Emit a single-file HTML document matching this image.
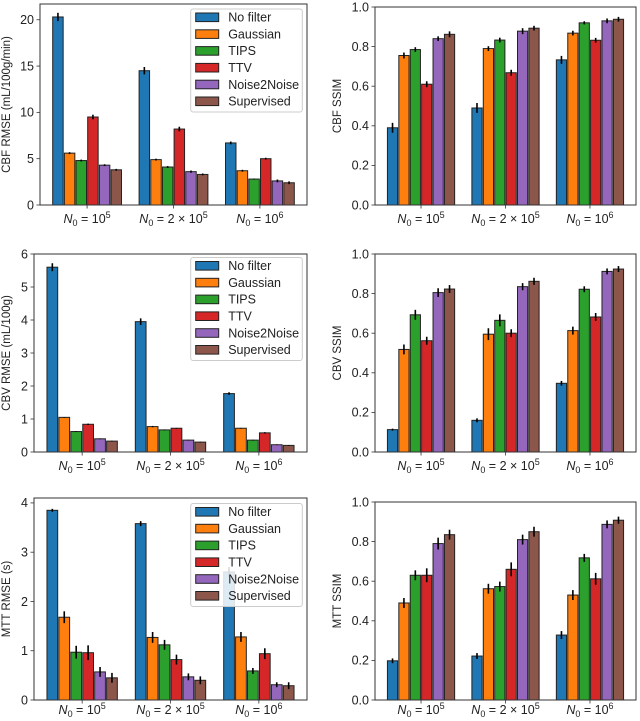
<!DOCTYPE html>
<html><head><meta charset="utf-8"><style>
body{margin:0;background:#fff;}
svg{display:block;font-family:"Liberation Sans","DejaVu Sans",sans-serif;}
</style></head><body>
<svg id="fig" width="640" height="721" viewBox="0 0 640 721" xmlns="http://www.w3.org/2000/svg"></svg>
<script>
const groups = ["10^5","2x10^5","10^6"];
const methods = ["No filter","Gaussian","TIPS","TTV","Noise2Noise","Supervised"];
const colors = ["#1f77b4","#ff7f0e","#2ca02c","#d62728","#9467bd","#8c564b"];

const cbfRmse = [[20.3,5.6,4.8,9.5,4.3,3.8],[14.5,4.9,4.1,8.2,3.6,3.3],[6.7,3.7,2.8,5.0,2.6,2.4]];
const cbfRmseErr = [[0.45,0.1,0.1,0.25,0.1,0.1],[0.4,0.1,0.1,0.25,0.12,0.1],[0.15,0.1,0.05,0.1,0.15,0.15]];
const cbfSsim = [[0.39,0.755,0.785,0.61,0.84,0.862],[0.49,0.79,0.833,0.668,0.878,0.893],[0.733,0.868,0.92,0.832,0.93,0.938]];
const cbfSsimErr = [[0.025,0.015,0.012,0.015,0.012,0.015],[0.025,0.012,0.012,0.015,0.015,0.012],[0.02,0.012,0.008,0.012,0.012,0.012]];
const cbvRmse = [[5.6,1.05,0.62,0.84,0.4,0.33],[3.95,0.77,0.67,0.72,0.36,0.3],[1.77,0.72,0.36,0.58,0.22,0.2]];
const cbvRmseErr = [[0.12,0.01,0.01,0.02,0.01,0.01],[0.1,0.02,0.01,0.01,0.01,0.01],[0.04,0.01,0.01,0.02,0.01,0.01]];
const cbvSsim = [[0.113,0.518,0.693,0.562,0.805,0.823],[0.16,0.595,0.665,0.6,0.835,0.862],[0.347,0.613,0.822,0.682,0.912,0.924]];
const cbvSsimErr = [[0.005,0.025,0.025,0.02,0.022,0.02],[0.01,0.03,0.03,0.02,0.018,0.018],[0.012,0.02,0.015,0.02,0.015,0.015]];
const mttRmse = [[3.85,1.68,0.97,0.96,0.57,0.45],[3.58,1.27,1.12,0.82,0.47,0.4],[2.6,1.28,0.59,0.94,0.31,0.29]];
const mttRmseErr = [[0.03,0.12,0.13,0.15,0.1,0.1],[0.05,0.11,0.1,0.1,0.07,0.08],[0.1,0.1,0.06,0.11,0.05,0.07]];
const mttSsim = [[0.198,0.49,0.63,0.63,0.79,0.835],[0.222,0.562,0.573,0.66,0.81,0.85],[0.328,0.53,0.718,0.612,0.887,0.908]];
const mttSsimErr = [[0.012,0.025,0.025,0.035,0.03,0.025],[0.015,0.025,0.025,0.035,0.025,0.025],[0.02,0.025,0.02,0.03,0.02,0.018]];

const rmseTicks1 = [0,5,10,15,20];
const rmseTicks2 = [0,1,2,3,4,5,6];
const rmseTicks3 = [0,1,2,3,4];
const ssimTicks = [0.0,0.2,0.4,0.6,0.8,1.0];

const NS="http://www.w3.org/2000/svg";
const fig=document.getElementById('fig');
function mk(tag,attrs,parent){const e=document.createElementNS(NS,tag);for(const k in attrs)e.setAttribute(k,attrs[k]);(parent||fig).appendChild(e);return e;}

function panel(name,L,R,T,B,ymax,data,err,ticks,dec,ylabel,ylabelX,legend,xlOff){
  const g=mk('g',{});
  
  
  const x0=-0.545,x1=2.545,bw=0.135;
  const xs=v=>L+(v-x0)/(x1-x0)*(R-L);
  const ys=v=>B-v/ymax*(B-T);
  data.forEach((row,gi)=>{
    row.forEach((v,mi)=>{
      const c=gi+(mi-2.5)*bw;
      const xa=xs(c-bw/2)+0.6, xb=xs(c+bw/2)-0.6;
      const r=mk('rect',{x:xa,y:ys(v),width:xb-xa,height:B-ys(v),fill:colors[mi],stroke:'#222','stroke-width':1},g);
      
      
      const e=err[gi][mi];
      const ln=mk('line',{x1:xs(c),x2:xs(c),y1:ys(v+e),y2:ys(v-e),stroke:'#000','stroke-width':1.6},g);
      
      
    });
  });
  const fr=mk('rect',{x:L,y:T,width:R-L,height:B-T,fill:'none',stroke:'#333','stroke-width':1},g);
  
  
  ticks.forEach(t=>{
    const y=ys(t);
    mk('line',{x1:L-3.5,x2:L,y1:y,y2:y,stroke:'#333','stroke-width':0.8},g);
    const tx=mk('text',{x:L-6,y:y+4.3,'text-anchor':'end','font-size':12.5,fill:'#222'},g);
    tx.textContent=t.toFixed(dec);
    
    
  });
  const labs=[['10','5'],['2 \u00d7 10','5'],['10','6']];
  labs.forEach((lb,i)=>{
    const x=xs(i);
    mk('line',{x1:x,x2:x,y1:B,y2:B+3.5,stroke:'#333','stroke-width':0.8},g);
    const tx=mk('text',{x:x,y:B+xlOff,'text-anchor':'middle','font-size':12.5,fill:'#222'},g);
    
    
    const a=mk('tspan',{'font-style':'italic'},tx);a.textContent='N';
    const b=mk('tspan',{'font-size':9,dy:3},tx);b.textContent='0';
    const c=mk('tspan',{dy:-3},tx);c.textContent=' = '+lb[0];
    const d=mk('tspan',{'font-size':9,dy:-5},tx);d.textContent=lb[1];
  });
  const yl=mk('text',{x:ylabelX,y:(T+B)/2,'text-anchor':'middle','font-size':11.5,fill:'#222',transform:`rotate(-90 ${ylabelX} ${(T+B)/2})`},g);
  yl.textContent=ylabel;
  
  
  if(legend){
    const lx=190.7,ly=legend,lw=111.6,lh=103;
    const lg=mk('g',{},g);
    
    
    mk('rect',{x:lx,y:ly,width:lw,height:lh,rx:2.5,fill:'rgba(255,255,255,0.85)',stroke:'#ccc','stroke-width':1},lg);
    methods.forEach((m,i)=>{
      const yy=ly+8.3+i*16.8;
      const p=mk('rect',{x:lx+5,y:yy-4.3,width:23,height:8.6,fill:colors[i],stroke:'#222','stroke-width':1},lg);
      
      
      const t=mk('text',{x:lx+37.5,y:yy+4.3,'font-size':12.5,fill:'#222'},lg);
      t.textContent=m;
      
      
    });
  }
}
panel('cbf-rmse-chart',40,307,4,205,21.7,cbfRmse,cbfRmseErr,rmseTicks1,0,'CBF RMSE (mL/100g/min)',10,9,18);
panel('cbf-ssim-chart',375,636,7,205,1.0,cbfSsim,cbfSsimErr,ssimTicks,1,'CBF SSIM',341,null,18);
panel('cbv-rmse-chart',34,307,254,452,6.0,cbvRmse,cbvRmseErr,rmseTicks2,0,'CBV RMSE (mL/100g)',10,257.5,18);
panel('cbv-ssim-chart',375,636,254,452,1.0,cbvSsim,cbvSsimErr,ssimTicks,1,'CBV SSIM',341,null,18);
panel('mtt-rmse-chart',34,307,498,700,4.1,mttRmse,mttRmseErr,rmseTicks3,0,'MTT RMSE (s)',10,503.5,14);
panel('mtt-ssim-chart',375,636,502,700,1.0,mttSsim,mttSsimErr,ssimTicks,1,'MTT SSIM',341,null,14);
</script>
</body></html>
